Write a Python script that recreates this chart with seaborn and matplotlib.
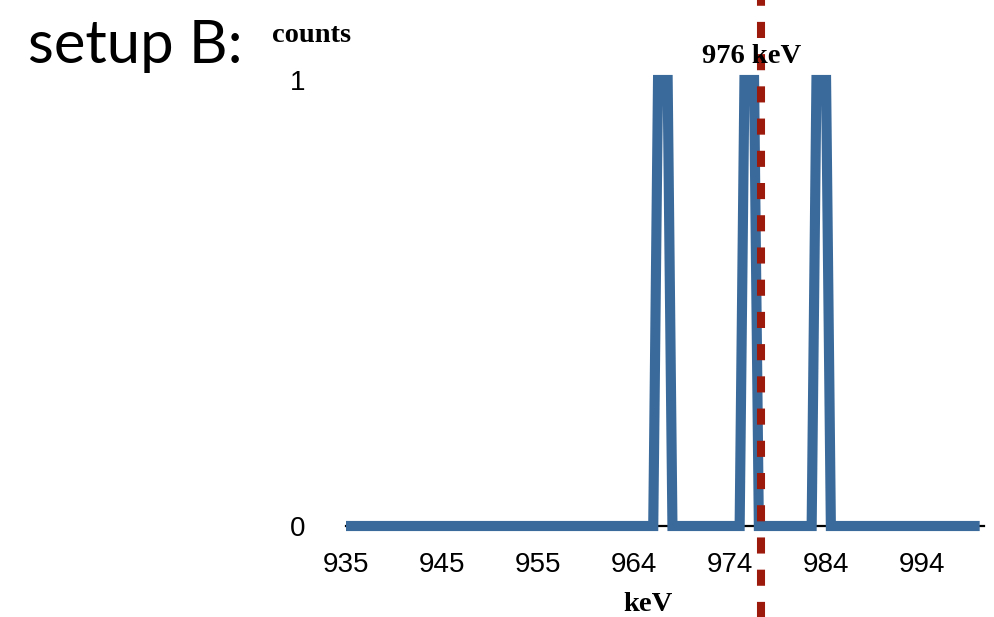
import matplotlib
matplotlib.use("Agg")
import numpy as np
import pandas as pd
import matplotlib.pyplot as plt
import seaborn as sns

# Spectrum: counts per channel (133 channels)
counts = [
    0, 0, 0, 0, 0, 0, 0, 0, 0, 0, 0, 0, 0, 0, 0, 0, 0, 0, 0, 0,   # 0-19
    0, 0, 0, 0, 0, 0, 0, 0, 0, 0, 0, 0, 0, 0, 0, 0, 0, 0, 0, 0,   # 20-39
    0, 0, 0, 0, 0, 0, 0, 0, 0, 0, 0, 0, 0, 0, 0, 0, 0, 0, 0, 0,   # 40-59
    0, 0, 0, 0, 0, 1, 1, 1, 0, 0, 0, 0, 0, 0, 0, 0, 0, 0, 0, 0,   # 60-79
    0, 0, 0, 1, 1, 1, 0, 0, 0, 0, 0, 0, 0, 0, 0, 0, 0, 0, 1, 1,   # 80-99
    1, 0, 0, 0, 0, 0, 0, 0, 0, 0, 0, 0, 0, 0, 0, 0, 0, 0, 0, 0,   # 100-119
    0, 0, 0, 0, 0, 0, 0, 0, 0, 0, 0, 0, 0,                        # 120-132
]

# Energy calibration of the channels
kev_start = 935.0
kev_per_channel = 0.474

# Axis labelling: every 20th channel carries a label
tick_every = 20
tick_labels = ["935", "945", "955", "964", "974", "984", "994"]

# Reference energy marker
marker_kev = 976
marker_label = "976 keV"

BLUE = "#3a6a9b"
RED = "#9b1a0c"

channel = np.arange(len(counts))
kev = kev_start + kev_per_channel * channel
df = pd.DataFrame({"keV": kev, "counts": counts})

sns.set_theme(style="white")
plt.rcParams["font.family"] = ["Liberation Sans", "DejaVu Sans"]
plt.rcParams["text.color"] = "black"
plt.rcParams["xtick.color"] = "black"
plt.rcParams["ytick.color"] = "black"

fig = plt.figure(figsize=(9.95, 6.17), dpi=100)
W, H = 995, 617
ax = fig.add_axes([346 / W, 1 - 526 / H, (984 - 346) / W, (526 - 80) / H])

sns.lineplot(data=df, x="keV", y="counts", color=BLUE, linewidth=7.3,
             ax=ax, zorder=3)
for ln in ax.lines:
    ln.set_solid_joinstyle("miter")
    ln.set_solid_capstyle("butt")
    ln.set_clip_on(False)

x_right = kev_start + kev_per_channel * 132.9
ax.set_xlim(kev_start, x_right)
ax.set_ylim(0, 1)

tick_pos = kev[::tick_every][:len(tick_labels)]
ax.set_xticks(tick_pos)
ax.set_xticklabels(tick_labels)
ax.set_yticks([0, 1])
ax.set_yticklabels(["0", "1"])
ax.tick_params(axis="x", length=0, pad=19, labelsize=20, labelcolor="black")
ax.tick_params(axis="y", length=0, pad=29, labelsize=20, labelcolor="black")
ax.set_xlabel("")
ax.set_ylabel("")

for s in ("left", "top", "right"):
    ax.spines[s].set_visible(False)
ax.spines["bottom"].set_color("black")
ax.spines["bottom"].set_linewidth(1.6)
ax.spines["bottom"].set_zorder(1)
ax.set_facecolor("white")

# Dashed marker spanning the full height of the figure
ax.axvline(marker_kev, ymin=-0.21, ymax=1.19, color=RED, linewidth=5.8,
           dashes=(2.0, 2.0), clip_on=False, zorder=4)

serif = ["Liberation Serif", "DejaVu Serif"]
fig.text(312 / W, 1 - 42 / H, "counts", ha="center", va="baseline",
         fontsize=20.5, fontweight="bold", family=serif, color="black")
fig.text(752 / W, 1 - 63 / H, marker_label, ha="center", va="baseline",
         fontsize=20.5, fontweight="bold", family=serif, color="black",
         zorder=2)
fig.text(648 / W, 1 - 611 / H, "keV", ha="center", va="baseline",
         fontsize=20.5, fontweight="bold", family=serif, color="black")
fig.text(28 / W, 1 - 63 / H, "setup B:", ha="left", va="baseline",
         fontsize=43, family=["Lato", "DejaVu Sans"], color="black")

fig.savefig("out.png", dpi=100, facecolor="white")
